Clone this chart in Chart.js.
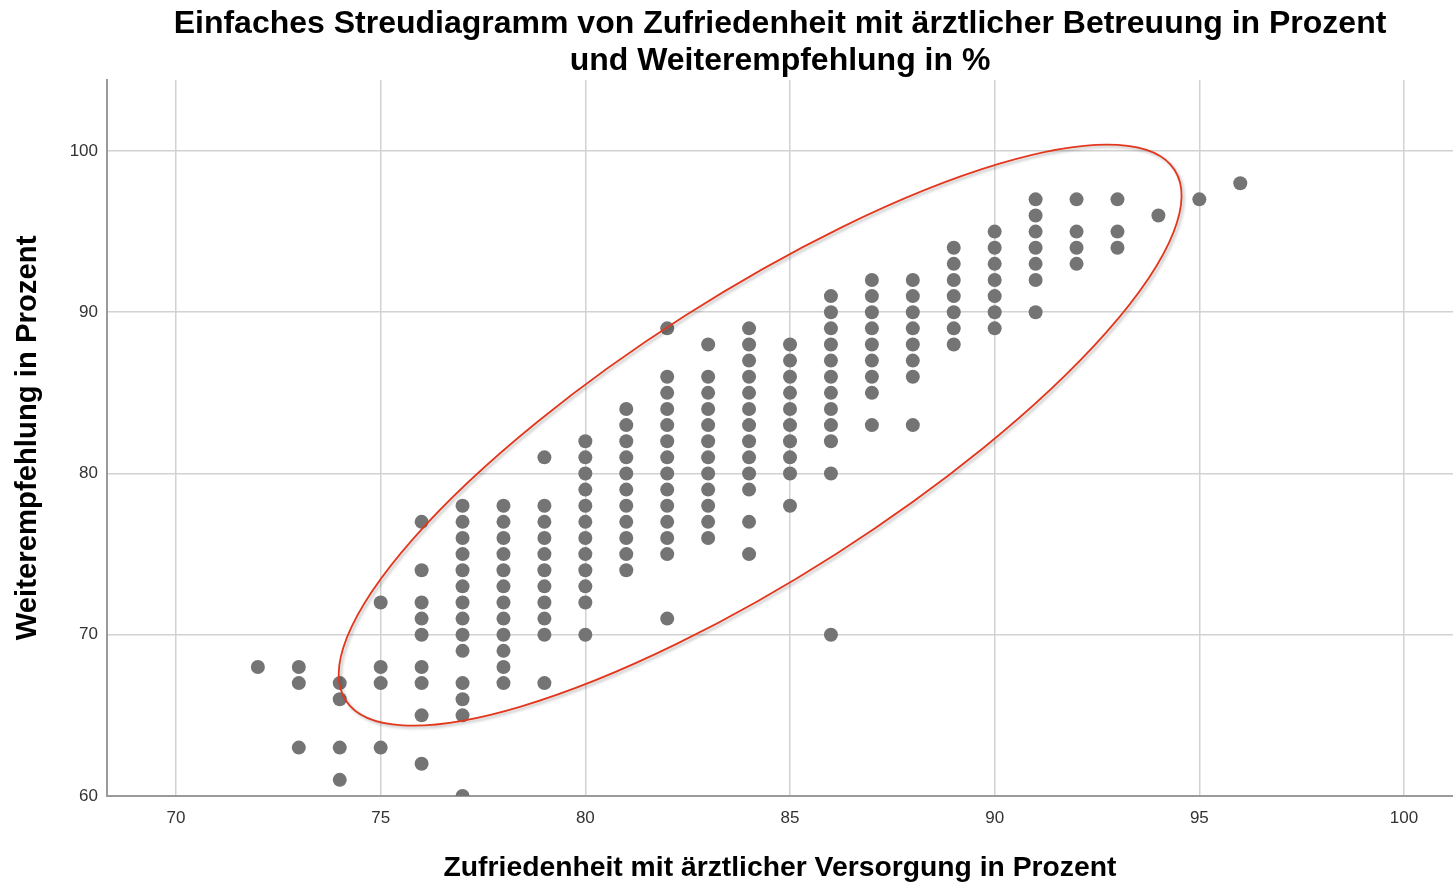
<!DOCTYPE html>
<html lang="de">
<head>
<meta charset="utf-8">
<title>Streudiagramm Zufriedenheit / Weiterempfehlung</title>
<script src="https://cdn.jsdelivr.net/npm/chart.js@4/dist/chart.umd.min.js"></script>
<style>
  html, body { margin: 0; padding: 0; background: #fff; }
  #wrap { width: 1453px; height: 885px; position: relative; }
</style>
</head>
<body>
<div id="wrap"><canvas id="chart"></canvas></div>
<script>
/* ─── Daten: je x-Wert (Zufriedenheit) die beobachteten y-Werte (Weiterempfehlung) ─── */
const xWerte = [72, 73, 74, 75, 76, 77, 78, 79, 80, 81, 82, 83, 84, 85, 86, 87, 88, 89, 90, 91, 92, 93, 94, 95, 96];
const yWerte = [
  [68],
  [68, 67, 63],
  [67, 66, 63, 61],
  [72, 68, 67, 63],
  [77, 74, 72, 71, 70, 68, 67, 65, 62],
  [78, 77, 76, 75, 74, 73, 72, 71, 70, 69, 67, 66, 65, 60],
  [78, 77, 76, 75, 74, 73, 72, 71, 70, 69, 68, 67],
  [81, 78, 77, 76, 75, 74, 73, 72, 71, 70, 67],
  [82, 81, 80, 79, 78, 77, 76, 75, 74, 73, 72, 70],
  [84, 83, 82, 81, 80, 79, 78, 77, 76, 75, 74],
  [89, 86, 85, 84, 83, 82, 81, 80, 79, 78, 77, 76, 75, 71],
  [88, 86, 85, 84, 83, 82, 81, 80, 79, 78, 77, 76],
  [89, 88, 87, 86, 85, 84, 83, 82, 81, 80, 79, 77, 75],
  [88, 87, 86, 85, 84, 83, 82, 81, 80, 78],
  [91, 90, 89, 88, 87, 86, 85, 84, 83, 82, 80, 70],
  [92, 91, 90, 89, 88, 87, 86, 85, 83],
  [92, 91, 90, 89, 88, 87, 86, 83],
  [94, 93, 92, 91, 90, 89, 88],
  [95, 94, 93, 92, 91, 90, 89],
  [97, 96, 95, 94, 93, 92, 90],
  [97, 95, 94, 93],
  [97, 95, 94],
  [96],
  [97],
  [98],
];
const xTicks = [70, 75, 80, 85, 90, 95, 100];
const yTicks = [60, 70, 80, 90, 100];

const TITEL   = ['Einfaches Streudiagramm von Zufriedenheit mit ärztlicher Betreuung in Prozent',
                 'und Weiterempfehlung in %'];
const X_TITEL = 'Zufriedenheit mit ärztlicher Versorgung in Prozent';
const Y_TITEL = 'Weiterempfehlung in Prozent';

/* Markierung (rote Ellipse): Mitte in Datenwerten, Halbachsen in px */
const ELLIPSE = { cx: 84.27, cy: 82.38, a: 492, b: 141, winkel: 32.6 };

const FONT = "'Liberation Sans', Arial, Helvetica, sans-serif";
const GRID = '#d2d2d2';
const AXIS = '#9a9a9a';

/* ─── Punkte aufbauen ─── */
const punkte = xWerte.flatMap((x, i) => yWerte[i].map(y => ({ x, y })));

/* ─── Plugin: Ellipse über die Punkte ─── */
const ellipsePlugin = {
  id: 'ellipse',
  afterDatasetsDraw(chart) {
    const { ctx, scales: { x, y } } = chart;
    const px = x.getPixelForValue(ELLIPSE.cx);
    const py = y.getPixelForValue(ELLIPSE.cy);
    ctx.save();
    ctx.shadowColor = 'rgba(0,0,0,0.28)';
    ctx.shadowOffsetX = 2;
    ctx.shadowOffsetY = 2;
    ctx.shadowBlur = 3;
    ctx.strokeStyle = '#e2371d';
    ctx.lineWidth = 1.8;
    ctx.beginPath();
    ctx.ellipse(px, py, ELLIPSE.a, ELLIPSE.b, -ELLIPSE.winkel * Math.PI / 180, 0, Math.PI * 2);
    ctx.stroke();
    ctx.restore();
  }
};

new Chart(document.getElementById('chart'), {
  type: 'scatter',
  data: {
    datasets: [{
      data: punkte,
      pointRadius: 7,
      pointHoverRadius: 7,
      pointBorderWidth: 0,
      backgroundColor: '#747474',
      borderColor: '#747474',
      clip: 0,
    }]
  },
  options: {
    responsive: true,
    maintainAspectRatio: false,
    animation: false,
    layout: { padding: 0, autoPadding: false },
    plugins: {
      legend: { display: false },
      tooltip: { enabled: false },
      title: {
        display: true,
        text: TITEL,
        fullSize: false,
        color: '#000',
        font: { family: FONT, size: 32, weight: 'bold', lineHeight: 1.17 },
        padding: { top: 5, bottom: 0 },
      },
    },
    scales: {
      x: {
        type: 'linear',
        min: 68.314,
        max: 101.197,
        afterBuildTicks: s => { s.ticks = xTicks.map(v => ({ value: v })); },
        afterFit: s => { s.height = 89; },
        ticks: { color: '#333', font: { family: FONT, size: 17 }, padding: 12, maxRotation: 0 },
        grid: { color: GRID, lineWidth: 1.5, drawTicks: false },
        border: { color: AXIS, width: 2 },
        title: {
          display: true, text: X_TITEL, color: '#000',
          font: { family: FONT, size: 28.3, weight: 'bold' },
          padding: { top: 0, bottom: 0 },
        },
      },
      y: {
        type: 'linear',
        min: 60,
        max: 104.41,
        afterBuildTicks: s => { s.ticks = yTicks.map(v => ({ value: v })); },
        afterFit: s => { s.width = 107; },
        ticks: { color: '#333', font: { family: FONT, size: 17 }, padding: 9 },
        grid: { color: GRID, lineWidth: 1.5, drawTicks: false },
        border: { color: AXIS, width: 2 },
        title: {
          display: true, text: Y_TITEL, color: '#000',
          font: { family: FONT, size: 29.3, weight: 'bold' },
          padding: { top: 10, bottom: 0 },
        },
      },
    },
  },
  plugins: [ellipsePlugin],
});
</script>
</body>
</html>
